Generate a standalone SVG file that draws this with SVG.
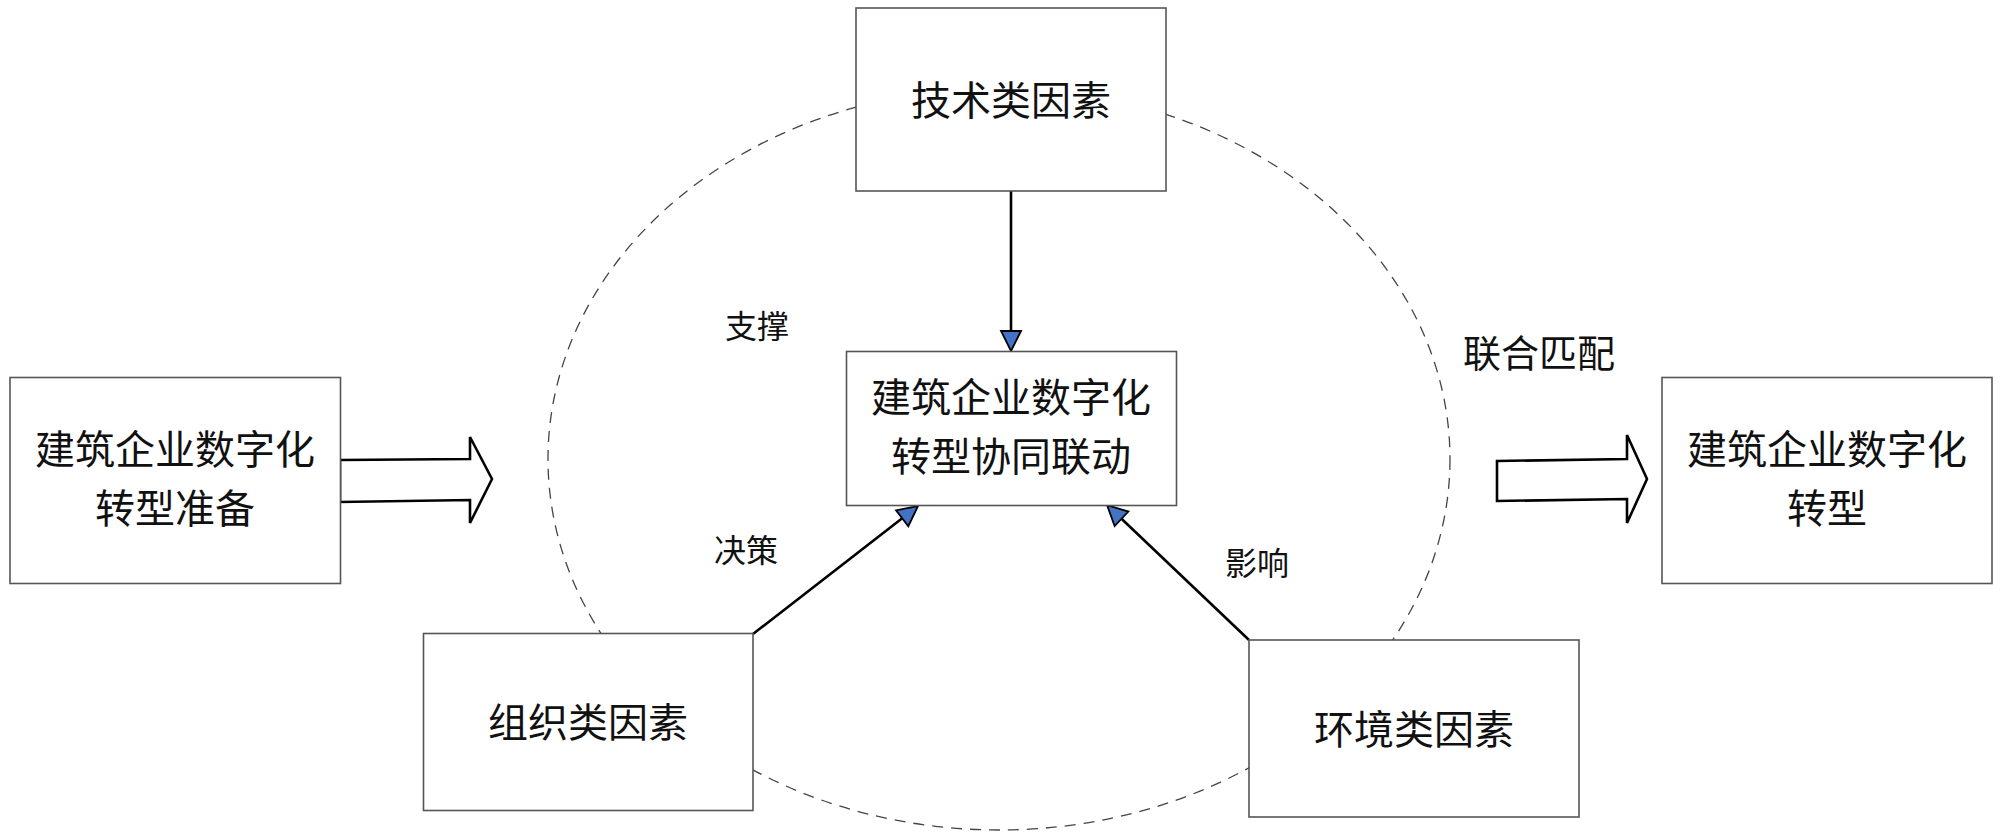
<svg xmlns="http://www.w3.org/2000/svg" width="2000" height="840" viewBox="0 0 2000 840">
<style>
.box{fill:#fff;stroke:#555;stroke-width:1.6}
.t{font-family:"Noto Sans CJK SC","Noto Sans",sans-serif;font-size:40px;fill:#111;text-anchor:middle}
.lbl{font-family:"Noto Sans CJK SC","Noto Sans",sans-serif;font-size:32px;fill:#111;text-anchor:middle}
.con{stroke:#000;stroke-width:2.6;fill:none}
.hollow{fill:#fff;stroke:#000;stroke-width:2.6;stroke-linejoin:miter}
</style>
<defs>
<marker id="ah" markerUnits="userSpaceOnUse" markerWidth="24" markerHeight="24" viewBox="-2 -2 24 24" refX="0" refY="10" orient="auto">
<path d="M0,0 L20,10 L0,20 Z" fill="#4472C4" stroke="#000" stroke-width="1.8" stroke-linejoin="miter"/>
</marker>
</defs>
<ellipse id="ring" cx="999" cy="459" rx="451" ry="371" fill="none" stroke="#444" stroke-width="1.3" stroke-dasharray="11 8"/>
<g id="connectors">
<line class="con" x1="1011" y1="191" x2="1011" y2="331" marker-end="url(#ah)"/>
<line class="con" x1="753" y1="634" x2="902.2" y2="518.3" marker-end="url(#ah)"/>
<line class="con" x1="1249" y1="640" x2="1121.5" y2="518.8" marker-end="url(#ah)"/>
<polygon class="hollow" points="340,460 470,459 470,437 492,479 470,523 470,500 340,502"/>
<polygon class="hollow" points="1497,461 1627,459 1627,435 1647,479 1627,523 1627,499 1497,501"/>
</g>
<g id="prep">
<rect class="box" x="10" y="377.5" width="330.5" height="206"/>
<text class="t" x="175" y="464">建筑企业数字化</text>
<text class="t" x="175" y="523">转型准备</text>
</g>
<g id="result">
<rect class="box" x="1662" y="377.5" width="330" height="206"/>
<text class="t" x="1827" y="464">建筑企业数字化</text>
<text class="t" x="1827" y="523">转型</text>
</g>
<g id="tech">
<rect class="box" x="856" y="8" width="310" height="183"/>
<text class="t" x="1011" y="115">技术类因素</text>
</g>
<g id="center">
<rect class="box" x="846.5" y="351.5" width="330" height="154"/>
<text class="t" x="1011" y="412">建筑企业数字化</text>
<text class="t" x="1011" y="471">转型协同联动</text>
</g>
<g id="org">
<rect class="box" x="423.5" y="633.5" width="329.5" height="177"/>
<text class="t" x="588" y="737">组织类因素</text>
</g>
<g id="env">
<rect class="box" x="1249" y="640" width="330" height="177"/>
<text class="t" x="1414" y="744">环境类因素</text>
</g>
<g id="labels">
<text class="lbl" x="757" y="338">支撑</text>
<text class="lbl" x="746" y="562">决策</text>
<text class="lbl" x="1257" y="575">影响</text>
<text class="t" x="1539" y="367" style="font-size:38px">联合匹配</text>
</g>
</svg>
